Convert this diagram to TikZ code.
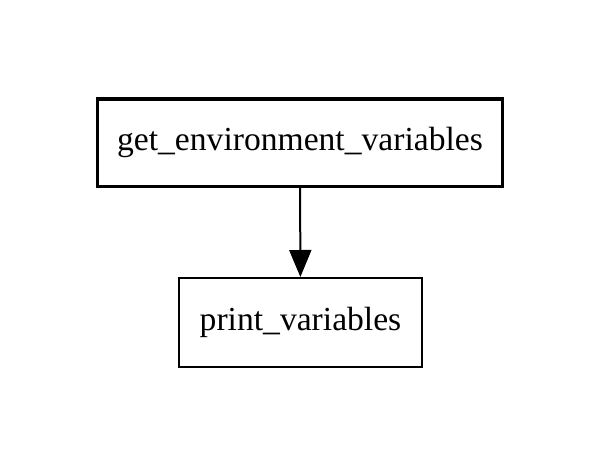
\documentclass[tikz,border=0pt]{standalone}
\usepackage{fontspec}
\setmainfont{Liberation Serif}
\usepackage{tikz}
\usetikzlibrary{arrows.meta}

\begin{document}
\begin{tikzpicture}[y=-1pt,x=1pt]
	\tikzset{
		func/.style={draw, rectangle, inner sep=0pt, font=\fontsize{33.6}{40}\selectfont},
		call/.style={line width=2pt, -{Triangle[length=27pt,width=22pt]}}
	}
	\useasboundingbox (0,0) rectangle (598,466);

	\node[func, line width=3.5pt, minimum width=405pt, minimum height=87.5pt] (getenv) at (300,142.5) {get\_environment\_variables};
	\node[func, line width=2pt, minimum width=243pt, minimum height=89pt] (printvars) at (300.5,322.5) {print\_variables};

	\draw[call] (getenv) -- (printvars);
\end{tikzpicture}
\end{document}
